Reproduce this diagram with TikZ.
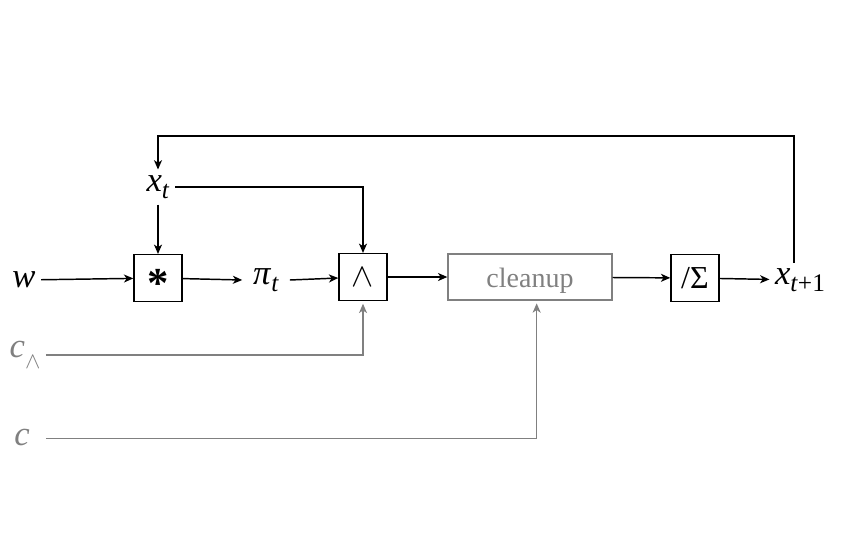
\documentclass[tikz,border=0pt]{standalone}
\usepackage{fontspec}
\setmainfont{Liberation Serif}
\usetikzlibrary{arrows.meta}
\definecolor{ctrl}{HTML}{808080}
% variables in italic serif, subscripts slightly lowered
\newcommand\sub[1]{\raisebox{-0.22em}{\fontsize{19}{20}\selectfont #1}}
\begin{document}
\begin{tikzpicture}[x=0.75pt,y=-0.75pt,
  every node/.style={font=\fontsize{26}{28}\selectfont},
  opbox/.style={draw, line width=1.1pt, minimum width=36pt, minimum height=35pt, inner sep=0pt, font=\fontsize{24}{26}\selectfont},
  ctrlbox/.style={draw=ctrl, text=ctrl, line width=1pt, minimum width=123pt, minimum height=34.5pt, inner sep=0pt, font=\fontsize{21}{24}\selectfont},
  var/.style={inner sep=4pt},
  flow/.style={-{Stealth[length=7pt,width=6pt,inset=2pt]}, line width=1.1pt},
  ctrlflow/.style={flow, draw=ctrl, line width=1pt}]
\useasboundingbox (0,0) rectangle (850,558);

% signals
\node[var] (w)   at (24,280)  {\textit{w}};
\node[var] (xt)  at (158,187) {\textit{x}\sub{\textit{t}}};
\node[var] (pi)  at (266,280) {\textit{π}\sub{\textit{t}}};
\node[var] (xt1) at (800,280) {\textit{x}\sub{\textit{t}+1}};
\node[var, text=ctrl] (cand) at (25,355) {\textit{c}\raisebox{-0.3em}{\fontsize{17}{18}\selectfont$\wedge$}};
\node[var, text=ctrl] (c) at (22,437) {\textit{c}};

% operators
\node[opbox, text height=29pt, text depth=0pt] (mul) at (158,278) {\fontsize{32}{32}\selectfont\bfseries *};
\node[opbox] (and) at (363,277) {$\wedge$};
\node[ctrlbox, text height=16pt, text depth=1pt] (clean) at (530,277) {cleanup};
\node[opbox] (norm) at (695,278) {/Σ};

% feedback corner points
\coordinate (fbr) at (794,136);
\coordinate (fbl) at (158,136);

% main path
\draw[flow] (w) -- (mul);
\draw[flow] (mul) -- ([xshift=-4pt]pi.west);
\draw[flow] ([xshift=4pt]pi.east) -- (and);
\draw[flow] (and) -- (clean);
\draw[flow] (clean) -- (norm);
\draw[flow] (norm) -- (xt1);

% state inputs
\draw[flow] (xt) -- (mul);
\draw[flow] (xt.east) -| (and.north);
\draw[flow] (xt1.north -| fbr) -- (fbr) -- (fbl) -- (xt.north);

% control inputs
\draw[ctrlflow] (cand.east) -| ([yshift=-2pt]and.south);
\draw[ctrlflow] ([yshift=-1pt]c.east -| cand.east) -| ([xshift=5pt,yshift=-2pt]clean.south);
\end{tikzpicture}
\end{document}
